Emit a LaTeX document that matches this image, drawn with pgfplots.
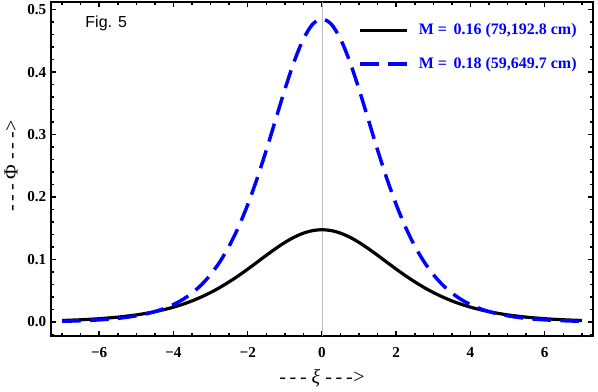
\documentclass[border=0pt]{standalone}
\usepackage{pgfplots}
\usepackage{pgfplotstable}
\usepackage{fontspec}
\pgfplotsset{compat=1.18}
\setmainfont{Liberation Serif}
\newfontfamily\arialfont{Liberation Sans}

% Phi(xi) for the two cases
\pgfplotstableread{
x y
-7 0.0025
-6.75 0.0030
-6.5 0.0036
-6.25 0.0044
-6 0.0053
-5.75 0.0065
-5.5 0.0078
-5.25 0.0095
-5 0.0114
-4.75 0.0138
-4.5 0.0166
-4.25 0.0199
-4 0.0238
-3.75 0.0284
-3.5 0.0338
-3.25 0.0401
-3 0.0472
-2.75 0.0553
-2.5 0.0643
-2.25 0.0741
-2 0.0846
-1.75 0.0956
-1.5 0.1067
-1.25 0.1174
-1 0.1273
-0.75 0.1357
-0.5 0.1422
-0.25 0.1463
0 0.1477
0.25 0.1463
0.5 0.1422
0.75 0.1357
1 0.1273
1.25 0.1174
1.5 0.1067
1.75 0.0956
2 0.0846
2.25 0.0741
2.5 0.0643
2.75 0.0553
3 0.0472
3.25 0.0401
3.5 0.0338
3.75 0.0284
4 0.0238
4.25 0.0199
4.5 0.0166
4.75 0.0138
5 0.0114
5.25 0.0095
5.5 0.0078
5.75 0.0065
6 0.0053
6.25 0.0044
6.5 0.0036
6.75 0.0030
7 0.0025
}\phiA

\pgfplotstableread{
x y
-7 0.0012
-6.75 0.0016
-6.5 0.0021
-6.25 0.0027
-6 0.0035
-5.75 0.0045
-5.5 0.0059
-5.25 0.0077
-5 0.0100
-4.75 0.0129
-4.5 0.0167
-4.25 0.0216
-4 0.0280
-3.75 0.0360
-3.5 0.0464
-3.25 0.0594
-3 0.0759
-2.75 0.0964
-2.5 0.1215
-2.25 0.1519
-2 0.1878
-1.75 0.2291
-1.5 0.2749
-1.25 0.3236
-1 0.3721
-0.75 0.4166
-0.5 0.4529
-0.25 0.4767
0 0.4850
0.25 0.4767
0.5 0.4529
0.75 0.4166
1 0.3721
1.25 0.3236
1.5 0.2749
1.75 0.2291
2 0.1878
2.25 0.1519
2.5 0.1215
2.75 0.0964
3 0.0759
3.25 0.0594
3.5 0.0464
3.75 0.0360
4 0.0280
4.25 0.0216
4.5 0.0167
4.75 0.0129
5 0.0100
5.25 0.0077
5.5 0.0059
5.75 0.0045
6 0.0035
6.25 0.0027
6.5 0.0021
6.75 0.0016
7 0.0012
}\phiB

\newcommand{\dsh}{-\kern2.8pt-\kern2.8pt-}

\begin{document}
\begin{tikzpicture}
\begin{axis}[
    scale only axis,
    width=407pt, height=251pt,
    xmin=-7.3, xmax=7.3,
    ymin=-0.023, ymax=0.512,
    axis line style={line width=1.5pt},
    tick style={line width=1.1pt, black},
    major tick length=3.8pt,
    minor tick length=2.2pt,
    tick align=inside,
    xtick={-6,-4,-2,0,2,4,6},
    xticklabels={−6,−4,−2,0,2,4,6},
    minor xtick={-7,-6.5,...,7},
    ytick={0,0.1,0.2,0.3,0.4,0.5},
    yticklabels={0.0,0.1,0.2,0.3,0.4,0.5},
    minor ytick={-0.02,0,0.02,0.04,0.06,0.08,0.1,0.12,0.14,0.16,0.18,0.2,0.22,0.24,0.26,0.28,0.3,0.32,0.34,0.36,0.38,0.4,0.42,0.44,0.46,0.48,0.5},
    ticklabel style={font=\fontsize{11.4}{12}\selectfont\bfseries},
    xticklabel style={yshift=-4.5pt},
    xlabel={\dsh{} \textit{ξ} \dsh\kern0.5pt>},
    ylabel={\dsh{} Φ \dsh\kern0.5pt>},
    label style={font=\fontsize{15}{15}\selectfont},
    xlabel style={at={(rel axis cs:0.5,0)}, anchor=center, yshift=-31.5pt},
    ylabel style={at={([xshift=-30pt]rel axis cs:0,0.51)}, anchor=center},
    legend style={draw=none, fill=none, at={(rel axis cs:0.56,0.948)}, anchor=north west,
        font=\fontsize{12}{12}\selectfont\bfseries, text=blue,
        nodes={inner sep=0pt, text height=9pt, text depth=3pt},
        row sep=13.3pt, column sep=7.5pt},
    legend cell align=left,
    legend image code/.code={\draw[#1] (0pt,0pt) -- (35pt,0pt);},
    clip=false,
]
\draw[gray!50, line width=0.6pt] (axis cs:0,-0.023) -- (axis cs:0,0.512);
\addplot[black, line width=2.4pt, smooth] table[x=x, y=y] {\phiA};
\addlegendentry{M =\, 0.16 (79,192.8 cm)}
\addplot[blue, line width=2.6pt, smooth, line cap=butt, dash pattern=on 14pt off 7pt] table[x=x, y=y] {\phiB};
\addlegendentry{M =\, 0.18 (59,649.7 cm)}
\node[anchor=west, font=\arialfont\fontsize{12}{12}\selectfont] at (rel axis cs:0.055,0.937) {Fig. 5};
\path (rel axis cs:0,0) ++(-37.5pt,-39pt) (rel axis cs:1,1) ++(3.75pt,1.5pt);
\end{axis}
\end{tikzpicture}
\end{document}
